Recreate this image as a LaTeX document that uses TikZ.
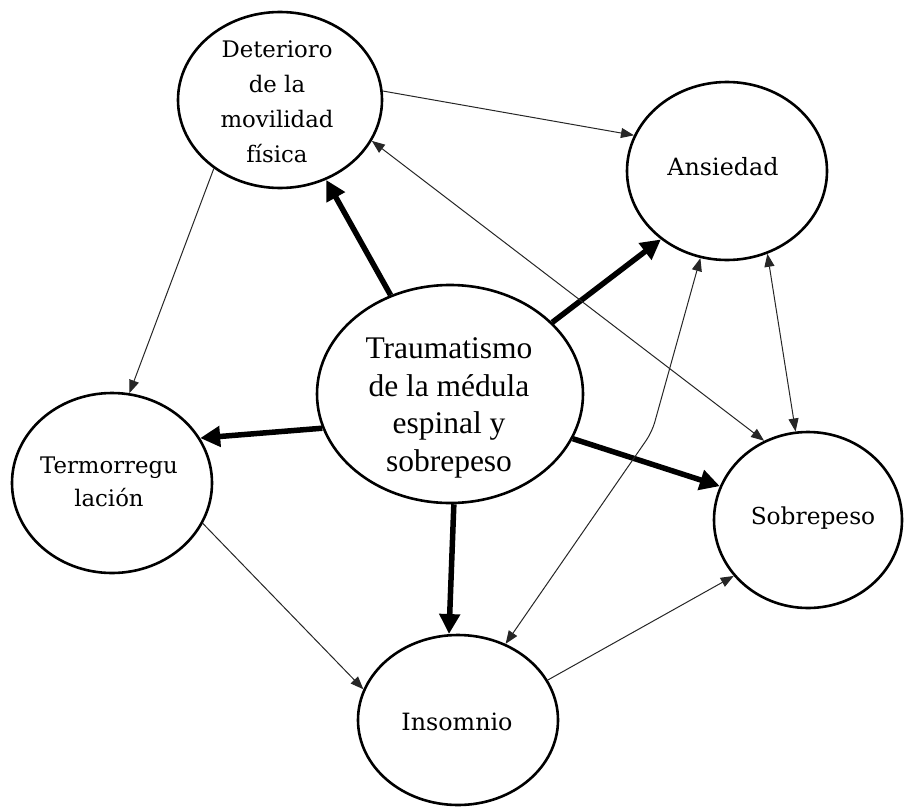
\documentclass[tikz,border=0pt]{standalone}
\usepackage{fontspec}
\setmainfont{DejaVu Serif}
\newfontfamily\trfont{Liberation Serif}
\usetikzlibrary{shapes.geometric,arrows.meta}
\tikzset{
  ell/.style={ellipse, draw, line width=2.6pt, inner sep=0pt},
  lbl/.style={align=center, inner sep=0pt, font=\fontsize{23.8}{33}\selectfont},
  thick arrow/.style={line width=5.5pt, -{Triangle[length=20pt,width=20pt]}},
  thin arrow/.style={line width=1pt, draw=black!85, -{Triangle[length=13pt,width=10pt]}},
  thin both/.style={line width=1pt, draw=black!85, {Triangle[length=13pt,width=10pt]}-{Triangle[length=13pt,width=10pt]}}
}
\begin{document}
\begin{tikzpicture}[x=1pt,y=-1pt]
\useasboundingbox (0,0) rectangle (904,808);
% ellipses
\node[ell, minimum width=204pt, minimum height=176pt] (det) at (280,100) {};
\node[ell, minimum width=200pt, minimum height=178pt] (ans) at (727,171) {};
\node[ell, minimum width=266pt, minimum height=218pt] (trau) at (450,394) {};
\node[ell, minimum width=200pt, minimum height=180pt] (ter) at (112,483) {};
\node[ell, minimum width=188pt, minimum height=176pt] (sob) at (808,520) {};
\node[ell, minimum width=200pt, minimum height=170pt] (ins) at (458,720) {};
% texts
\node[lbl, font=\fontsize{22.8}{35}\selectfont] (detl) at (277,102) {Deterioro\\de la\\movilidad\\física};
\node[lbl] (ansl) at (723,167) {Ansiedad};
\node[lbl, font=\trfont\fontsize{31.5}{37.5}\selectfont] (traul) at (449,408) {Traumatismo\\de la médula\\espinal y\\sobrepeso};
\node[lbl, font=\fontsize{22.8}{33}\selectfont] (terl) at (109,482) {Termorregu\\lación};
\node[lbl, font=\fontsize{23.3}{33}\selectfont] (sobl) at (813,518) {Sobrepeso};
\node[lbl] (insl) at (457,722) {Insomnio};
% thick arrows from Traumatismo
\draw[thick arrow] (trau.121) -- (det.-60);
\draw[thick arrow] (trau.35) -- (ans.226);
\draw[thick arrow] (trau.195) -- (ter.27.6);
\draw[thick arrow] (trau.-20) -- (sob.159);
\draw[thick arrow] (trau.-88.5) -- (ins.96.4);
% thin arrows
\draw[thin arrow] (det.5.3) -- (ans.159);
\draw[thin arrow] (det.226.9) -- (ter.79);
\draw[thin both] (det.-24) -- (sob.119.2);
\draw[thin both] (ans.-64.8) -- (sob.98);
\coordinate (bend) at (652,432);
\draw[thin both, rounded corners=10pt] (ins.58.5) -- (bend) -- (ans.253.5);
\draw[thin arrow] (ter.-24.6) -- (ins.162.4);
\draw[thin arrow] (ins.24.5) -- (sob.217.7);
\end{tikzpicture}
\end{document}
